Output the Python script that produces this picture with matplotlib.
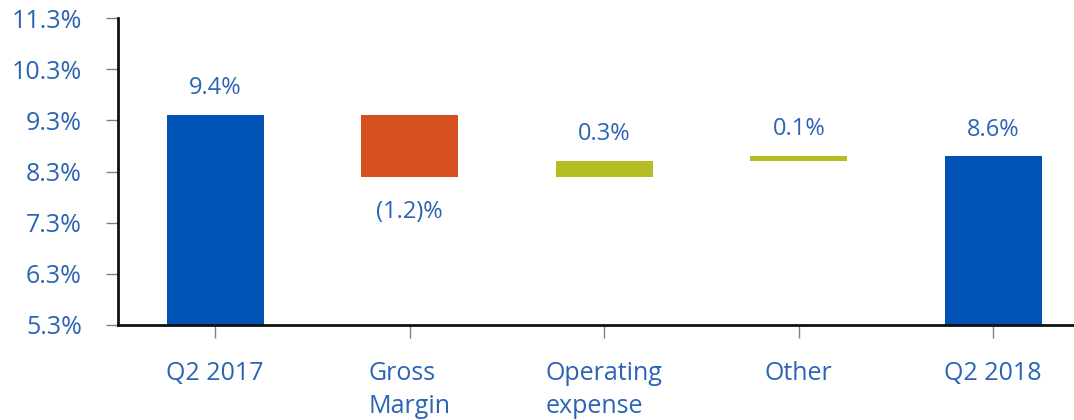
import matplotlib.pyplot as plt
import numpy as np

# Margin bridge: Q2 2017 -> Q2 2018
categories = ["Q2 2017", "Gross\nMargin", "Operating\nexpense", "Other", "Q2 2018"]
start_value = 9.4
changes = [-1.2, 0.3, 0.1]
end_value = 8.6
labels = ["9.4%", "(1.2)%", "0.3%", "0.1%", "8.6%"]
yticks = [5.3, 6.3, 7.3, 8.3, 9.3, 10.3, 11.3]

blue = "#0052b4"
orange = "#d54f1f"
olive = "#b4bd22"
text_blue = "#2b63b5"

plt.rcParams["font.family"] = ["Open Sans", "DejaVu Sans"]

fig = plt.figure(figsize=(10.74, 4.2), dpi=100)
ax = fig.add_axes([118 / 1074, 95 / 420, 5 * 194.5 / 1074, 307 / 420])

base = yticks[0]
x = np.arange(len(categories))

# totals
ax.bar(x[0], start_value - base, bottom=base, width=0.5, color=blue)
ax.bar(x[-1], end_value - base, bottom=base, width=0.5, color=blue)

# floating steps
level = start_value
for i, d in enumerate(changes, start=1):
    lo = level + min(d, 0)
    color = orange if d < 0 else olive
    ax.bar(x[i], abs(d), bottom=lo, width=0.5, color=color)
    level += d

# value labels
vfont = 17
level = start_value
ax.text(x[0], start_value + 0.53, labels[0], ha="center", va="center", color=text_blue, fontsize=vfont)
for i, d in enumerate(changes, start=1):
    if d < 0:
        ax.text(x[i], level + d - 0.69, labels[i], ha="center", va="center", color=text_blue, fontsize=vfont)
    else:
        ax.text(x[i], level + d + 0.53, labels[i], ha="center", va="center", color=text_blue, fontsize=vfont)
    level += d
ax.text(x[-1], end_value + 0.52, labels[-1], ha="center", va="center", color=text_blue, fontsize=vfont)

ax.set_xlim(-0.5, 4.5)
ax.set_ylim(yticks[0], yticks[-1])
ax.set_yticks(yticks)
ax.set_yticklabels([f"{t:.1f}%" for t in yticks])
ax.set_xticks(x)
ax.set_xticklabels(categories, linespacing=1.4)

for lbl in ax.get_xticklabels():
    lbl.set_multialignment("left")

ax.tick_params(axis="y", colors="#808080", labelcolor=text_blue, labelsize=18, length=9, width=1, pad=17)
ax.tick_params(axis="x", colors="#808080", labelcolor=text_blue, labelsize=18, length=9, width=1, pad=17)

for s in ["top", "right"]:
    ax.spines[s].set_visible(False)
for s in ["left", "bottom"]:
    ax.spines[s].set_linewidth(2)
    ax.spines[s].set_color("#111111")

fig.savefig("out.png", dpi=100)
